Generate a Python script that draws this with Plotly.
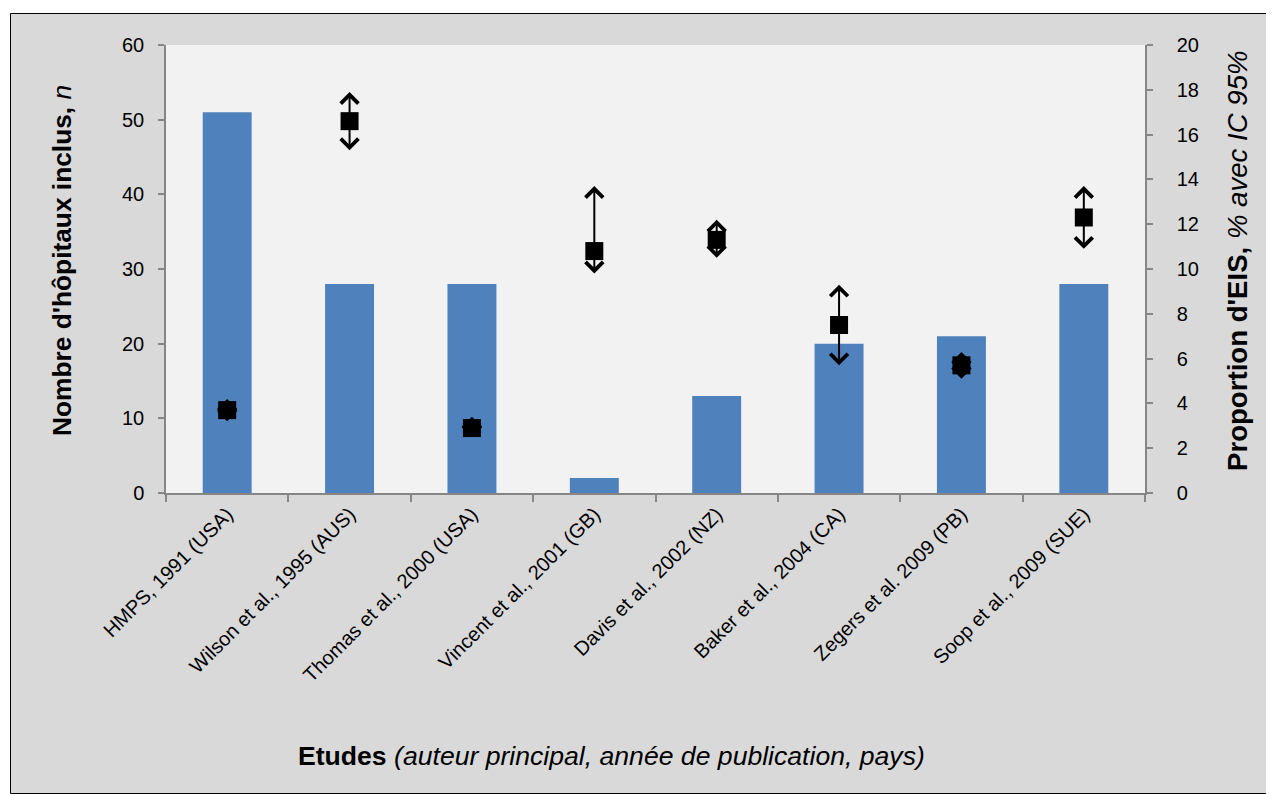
import plotly.graph_objects as go

# ---------------- data ----------------
studies = ["HMPS, 1991 (USA)", "Wilson et al., 1995 (AUS)", "Thomas et al., 2000 (USA)",
           "Vincent et al., 2001 (GB)", "Davis et al., 2002 (NZ)", "Baker et al., 2004 (CA)",
           "Zegers et al. 2009 (PB)", "Soop et al., 2009 (SUE)"]
hospitals = [51, 28, 28, 2, 13, 20, 21, 28]
eis_pct = [3.7, 16.6, 2.9, 10.8, 11.3, 7.5, 5.7, 12.3]
ci_low = [3.2, 15.3, 2.5, 9.8, 10.5, 5.7, 5.1, 10.9]
ci_high = [4.2, 17.9, 3.4, 13.7, 12.2, 9.3, 6.3, 13.7]
left_ticks = [0, 10, 20, 30, 40, 50, 60]
right_ticks = [0, 2, 4, 6, 8, 10, 12, 14, 16, 18, 20]

FONT = "Arial, Liberation Sans, sans-serif"
AXIS_GRAY = "#868686"

fig = go.Figure()
fig.add_trace(go.Bar(x=studies, y=hospitals, width=0.4,
                     marker=dict(color="#4f81bd", line=dict(width=0)),
                     showlegend=False, hoverinfo="skip"))
fig.add_trace(go.Scatter(x=studies, y=eis_pct, yaxis="y2", mode="markers",
                         marker=dict(symbol="square", size=18, color="black"),
                         cliponaxis=False, showlegend=False, hoverinfo="skip"))

annotations = []
for s, p, lo, hi in zip(studies, eis_pct, ci_low, ci_high):
    for end in (lo, hi):
        annotations.append(dict(x=s, y=end, xref="x", yref="y2",
                                ax=s, ay=p, axref="x", ayref="y2",
                                text="", showarrow=True, arrowhead=4,
                                arrowsize=1.7, arrowwidth=2, arrowcolor="black",
                                standoff=0, startstandoff=0))

# axis titles (positions given relative to the plotting area)
annotations.append(dict(x=-104 / 979, y=(493 - 261) / 448, xref="paper", yref="paper",
                        text="<b>Nombre d'hôpitaux inclus, </b><i>n</i>", textangle=-90,
                        showarrow=False, xanchor="center", yanchor="middle",
                        font=dict(family=FONT, size=26.3, color="black")))
annotations.append(dict(x=(1238 - 166) / 979, y=(493 - 261) / 448, xref="paper", yref="paper",
                        text="<b>Proportion d'EIS, </b><i>% avec IC 95%</i>", textangle=-90,
                        showarrow=False, xanchor="center", yanchor="middle",
                        font=dict(family=FONT, size=27.6, color="black")))
annotations.append(dict(x=(611 - 166) / 979, y=(493 - 756) / 448, xref="paper", yref="paper",
                        text="<b>Etudes</b> <i>(auteur principal, année de publication, pays)</i>",
                        showarrow=False, xanchor="center", yanchor="middle",
                        font=dict(family=FONT, size=26.6, color="black")))

W, H = 979.0, 448.0
def px_x(v):
    return (v - 166) / W
def px_y(v):
    return (493 - v) / H

shapes = [
    # white outer strips
    dict(type="rect", xref="paper", yref="paper", x0=px_x(-5), x1=px_x(1290),
         y0=px_y(-5), y1=px_y(13), fillcolor="white", line=dict(width=0), layer="above"),
    dict(type="rect", xref="paper", yref="paper", x0=px_x(-5), x1=px_x(10),
         y0=px_y(-5), y1=px_y(800), fillcolor="white", line=dict(width=0), layer="above"),
    # border
    dict(type="rect", xref="paper", yref="paper", x0=px_x(10.5), x1=px_x(1273.5),
         y0=px_y(13.5), y1=px_y(793.5), fillcolor="rgba(0,0,0,0)",
         line=dict(color="black", width=1), layer="above"),
]

fig.update_layout(
    width=1266, height=786,
    margin=dict(l=158, r=129, t=37, b=301, pad=0),
    paper_bgcolor="#d9d9d9", plot_bgcolor="#f2f2f2",
    font=dict(family=FONT, size=20, color="black"),
    bargap=0.6,
    xaxis=dict(type="category", range=[-0.5, 7.5], showline=True, linecolor=AXIS_GRAY,
               linewidth=1.5, ticks="outside", tickson="boundaries", ticklen=7,
               tickcolor=AXIS_GRAY, tickwidth=1.5, tickangle=-45, showgrid=False,
               tickfont=dict(family=FONT, size=20, color="black")),
    yaxis=dict(range=[0, 60], tickvals=left_ticks, showline=True, linecolor=AXIS_GRAY,
               linewidth=1.5, ticks="outside", ticklen=6, tickcolor=AXIS_GRAY, tickwidth=1.5,
               showgrid=False, zeroline=False, ticklabelstandoff=10,
               tickfont=dict(family=FONT, size=20, color="black")),
    yaxis2=dict(range=[0, 20], tickvals=right_ticks, overlaying="y", side="right",
                showline=True, linecolor=AXIS_GRAY, linewidth=1.5, ticks="outside", ticklen=6,
                tickcolor=AXIS_GRAY, tickwidth=1.5, showgrid=False, zeroline=False,
                ticklabelstandoff=20, tickfont=dict(family=FONT, size=20, color="black")),
    annotations=annotations,
    shapes=shapes,
)

fig.write_html("out.html")
